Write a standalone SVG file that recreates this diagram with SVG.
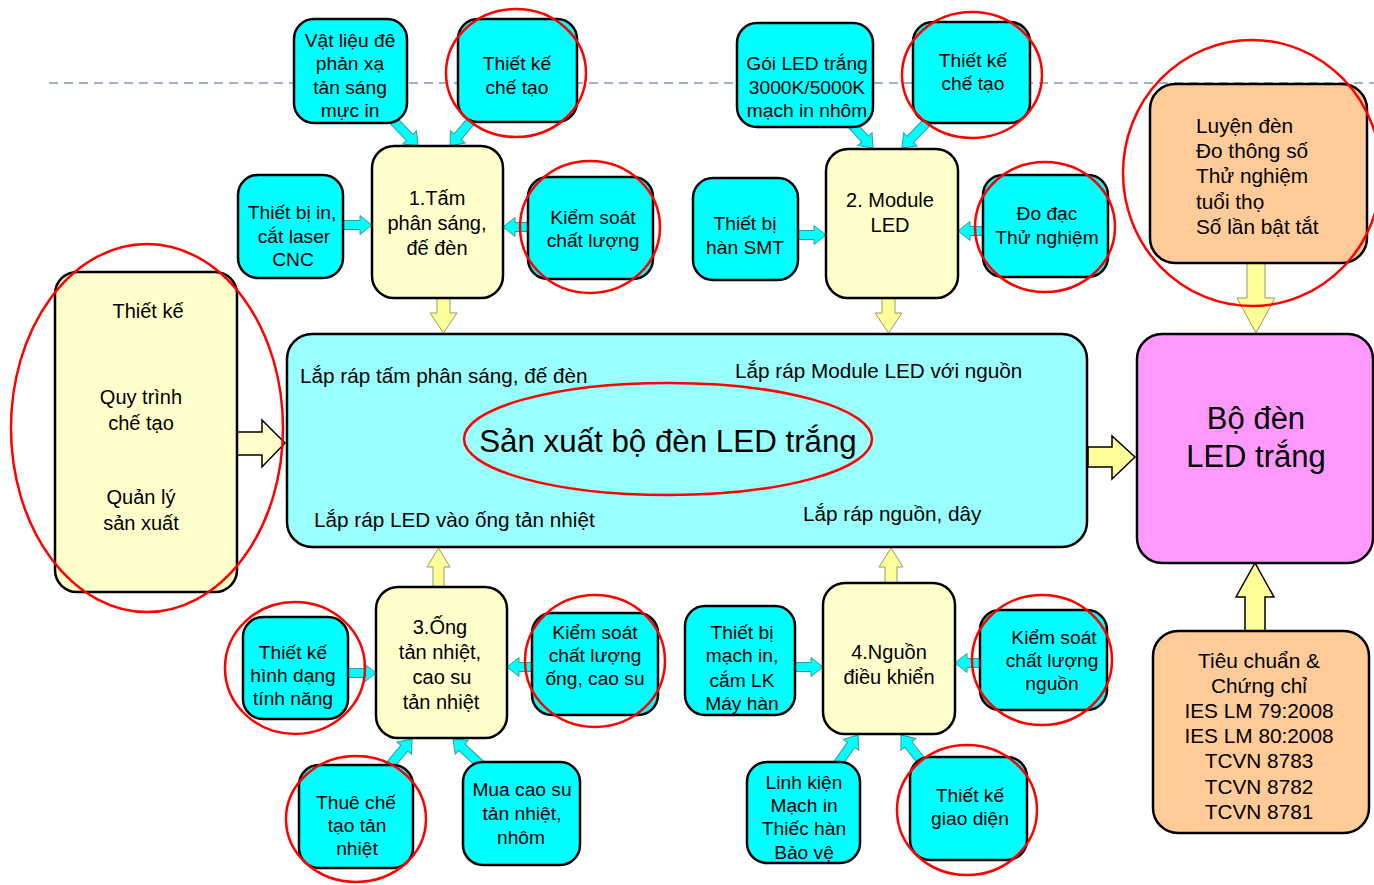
<svg xmlns="http://www.w3.org/2000/svg" xmlns:xlink="http://www.w3.org/1999/xlink" width="1374" height="885" viewBox="0 0 1374 885">
<style>
text{font-family:"Liberation Sans",Arial,sans-serif;font-size:20px;fill:#000;text-anchor:middle;dominant-baseline:central}
.cy{fill:#00ffff;stroke:#000;stroke-width:2.5}
.ly{fill:#ffffcc;stroke:#000;stroke-width:2.5}
.pe{fill:#ffcc99;stroke:#000;stroke-width:2.5}
.ca{fill:#00ffff;stroke:#339999;stroke-width:1}
.ya{fill:#ffff99;stroke:#999966;stroke-width:1}
.yb{fill:#ffff99;stroke:#000;stroke-width:1.5}
.rc{fill:none;stroke:#ff0000;stroke-width:2.5}
.lt{text-anchor:start}
.c text{font-size:19.2px}
.p text{font-size:20.8px}
.m text{font-size:20.7px}
</style>
<defs>
<path id="ca" d="M-38,-4.5 H-12 V-9.5 L0,0 L-12,9.5 V4.5 H-38 Z"/>
</defs>
<rect width="1374" height="885" fill="#ffffff"/>
<line x1="49" y1="83" x2="1374" y2="83" stroke="#9bb2c9" stroke-width="2" stroke-dasharray="9 6"/>

<g id="connectors">
<use xlink:href="#ca" class="ca" transform="translate(418,146) rotate(46)"/>
<use xlink:href="#ca" class="ca" transform="translate(450,146) rotate(130)"/>
<use xlink:href="#ca" class="ca" transform="translate(372,225)"/>
<use xlink:href="#ca" class="ca" transform="translate(503,227) rotate(180)"/>
<use xlink:href="#ca" class="ca" transform="translate(873,148) rotate(48)"/>
<use xlink:href="#ca" class="ca" transform="translate(902,148) rotate(134)"/>
<use xlink:href="#ca" class="ca" transform="translate(826,235)"/>
<use xlink:href="#ca" class="ca" transform="translate(958,231) rotate(180)"/>
<use xlink:href="#ca" class="ca" transform="translate(376,673)"/>
<use xlink:href="#ca" class="ca" transform="translate(507,667) rotate(180)"/>
<use xlink:href="#ca" class="ca" transform="translate(412,739) rotate(-50)"/>
<use xlink:href="#ca" class="ca" transform="translate(453,739) rotate(-137)"/>
<use xlink:href="#ca" class="ca" transform="translate(823,667)"/>
<use xlink:href="#ca" class="ca" transform="translate(955,663) rotate(180)"/>
<use xlink:href="#ca" class="ca" transform="translate(858,735) rotate(-55)"/>
<use xlink:href="#ca" class="ca" transform="translate(901,735) rotate(-128)"/>
<path class="ya" d="M437,297 H450 V313 H457 L443.5,333 L430,313 H437 Z"/>
<path class="ya" d="M882,297 H895 V313 H902 L888.5,333 L875,313 H882 Z"/>
<path class="ya" d="M433,589 H444 V567 H450 L438.5,548 L427,567 H433 Z"/>
<path class="ya" d="M885,585 H897 V567 H903 L891,548 L879,567 H885 Z"/>
<path class="ya" d="M1247,262 H1265 V298 H1275 L1256,333 L1237,298 H1247 Z"/>
<path class="yb" d="M1245,632 H1265 V597 H1274 L1255,563 L1236,597 H1245 Z"/>
<path class="yb" d="M1088,447 H1112 V436 L1135,457 L1112,479 V467 H1088 Z"/>
<path d="M237,432 H262 V420 L285,443 L262,467 V455 H237 Z" fill="#ffffcc" stroke="#000" stroke-width="1.5"/>
</g>

<g id="n_vatlieu" class="c"><rect class="cy" x="294" y="19" width="113" height="104" rx="20"/>
<text x="350" y="40">Vật liệu đê</text><text x="350" y="63">phản xạ</text><text x="350" y="87">tản sáng</text><text x="350" y="110">mực in</text></g>
<g id="n_tk1" class="c"><rect class="cy" x="458" y="19" width="119" height="103" rx="20"/>
<text x="517" y="63">Thiết kế</text><text x="517" y="87">chế tạo</text></g>
<g id="n_tam"><rect class="ly" x="372" y="146" width="131" height="152" rx="22"/>
<text x="437" y="198">1.Tấm</text><text x="437" y="223">phân sáng,</text><text x="437" y="248">đế đèn</text></g>
<g id="n_tbin" class="c"><rect class="cy" x="238" y="175" width="105" height="103" rx="20"/>
<text x="292" y="212">Thiết bị in,</text><text x="294" y="236">cắt laser</text><text x="293" y="259">CNC</text></g>
<g id="n_ks1" class="c"><rect class="cy" x="528" y="177" width="125" height="102" rx="20"/>
<text x="593" y="217">Kiểm soát</text><text x="593" y="240">chất lượng</text></g>

<g id="n_goi" class="c"><rect class="cy" x="737" y="23" width="136" height="104" rx="20"/>
<text x="807" y="63">Gói LED trắng</text><text x="807" y="87">3000K/5000K</text><text x="807" y="110">mạch in nhôm</text></g>
<g id="n_tk2" class="c"><rect class="cy" x="913" y="22" width="117" height="101" rx="20"/>
<text x="973" y="60">Thiết kế</text><text x="973" y="83">chế tạo</text></g>
<g id="n_module"><rect class="ly" x="826" y="149" width="132" height="149" rx="22"/>
<text x="890" y="200">2. Module</text><text x="890" y="225">LED</text></g>
<g id="n_smt" class="c"><rect class="cy" x="693" y="178" width="105" height="102" rx="20"/>
<text x="745" y="223">Thiết bị</text><text x="745" y="247">hàn SMT</text></g>
<g id="n_dodac" class="c"><rect class="cy" x="983" y="175" width="125" height="102" rx="20"/>
<text x="1047" y="213">Đo đạc</text><text x="1047" y="237">Thử nghiệm</text></g>

<g id="n_luyen" class="p"><rect class="pe" x="1150" y="84" width="217" height="179" rx="25"/>
<text class="lt" x="1196" y="125">Luyện đèn</text><text class="lt" x="1196" y="150">Đo thông số</text><text class="lt" x="1196" y="175">Thử nghiệm</text><text class="lt" x="1196" y="201">tuổi thọ</text><text class="lt" x="1196" y="226">Số lần bật tắt</text></g>

<g id="n_left"><rect class="ly" x="55" y="272" width="182" height="320" rx="22"/>
<text x="148" y="311">Thiết kế</text><text x="141" y="397">Quy trình</text><text x="141" y="423">chế tạo</text><text x="141" y="497">Quản lý</text><text x="141" y="523">sản xuất</text></g>

<g id="n_center" class="m"><rect x="287" y="334" width="800" height="213" rx="25" fill="#99ffff" stroke="#000" stroke-width="2.5"/>
<text class="lt" x="300" y="375">Lắp ráp tấm phân sáng, đế đèn</text>
<text class="lt" x="735" y="370">Lắp ráp Module LED với nguồn</text>
<text x="668" y="441" style="font-size:31.3px">Sản xuất bộ đèn LED trắng</text>
<text class="lt" x="314" y="519">Lắp ráp LED vào ống tản nhiệt</text>
<text class="lt" x="803" y="513">Lắp ráp nguồn, dây</text></g>

<g id="n_boden"><rect x="1137" y="334" width="236" height="229" rx="25" fill="#ff99ff" stroke="#000" stroke-width="2.5"/>
<text x="1256" y="418" style="font-size:31px">Bộ đèn</text><text x="1256" y="456" style="font-size:31px">LED trắng</text></g>

<g id="n_tieuchuan" class="p"><rect class="pe" x="1153" y="631" width="216" height="202" rx="25"/>
<text x="1259" y="660">Tiêu chuẩn &amp;</text><text x="1259" y="685">Chứng chỉ</text><text x="1259" y="710">IES LM 79:2008</text><text x="1259" y="735">IES LM 80:2008</text><text x="1259" y="760">TCVN 8783</text><text x="1259" y="786">TCVN 8782</text><text x="1259" y="811">TCVN 8781</text></g>

<g id="n_ong"><rect class="ly" x="376" y="587" width="131" height="151" rx="22"/>
<text x="440" y="627">3.Ống</text><text x="440" y="652">tản nhiệt,</text><text x="442" y="677">cao su</text><text x="441" y="702">tản nhiệt</text></g>
<g id="n_tkhd" class="c"><rect class="cy" x="243" y="617" width="105" height="102" rx="20"/>
<text x="293" y="652">Thiết kế</text><text x="293" y="675">hình dạng</text><text x="293" y="698">tính năng</text></g>
<g id="n_ks3" class="c"><rect class="cy" x="532" y="613" width="126" height="102" rx="20"/>
<text x="595" y="632">Kiểm soát</text><text x="595" y="655">chất lượng</text><text x="595" y="678">ống, cao su</text></g>
<g id="n_thue" class="c"><rect class="cy" x="299" y="765" width="114" height="103" rx="20"/>
<text x="356" y="802">Thuê chế</text><text x="357" y="825">tạo tản</text><text x="357" y="848">nhiệt</text></g>
<g id="n_mua" class="c"><rect class="cy" x="463" y="762" width="117" height="103" rx="20"/>
<text x="522" y="789">Mua cao su</text><text x="522" y="813">tản nhiệt,</text><text x="521" y="837">nhôm</text></g>

<g id="n_nguon"><rect class="ly" x="823" y="583" width="132" height="151" rx="22"/>
<text x="889" y="652">4.Nguồn</text><text x="889" y="677">điều khiển</text></g>
<g id="n_tbmach" class="c"><rect class="cy" x="685" y="606" width="110" height="109" rx="20"/>
<text x="742" y="632">Thiết bị</text><text x="742" y="655">mạch in,</text><text x="742" y="680">cắm LK</text><text x="742" y="703">Máy hàn</text></g>
<g id="n_ks4" class="c"><rect class="cy" x="980" y="610" width="127" height="100" rx="20"/>
<text x="1054" y="637">Kiểm soát</text><text x="1052" y="660">chất lượng</text><text x="1052" y="683">nguồn</text></g>
<g id="n_linh" class="c"><rect class="cy" x="747" y="762" width="113" height="101" rx="20"/>
<text x="804" y="782">Linh kiện</text><text x="804" y="805">Mạch in</text><text x="804" y="828">Thiếc hàn</text><text x="804" y="852">Bảo vệ</text></g>
<g id="n_tkgd" class="c"><rect class="cy" x="910" y="757" width="117" height="103" rx="20"/>
<text x="970" y="795">Thiết kế</text><text x="970" y="818">giao diện</text></g>

<g id="highlights">
<ellipse class="rc" cx="516" cy="73" rx="70" ry="64"/>
<ellipse class="rc" cx="590" cy="227" rx="70" ry="66"/>
<ellipse class="rc" cx="972" cy="75" rx="70" ry="63"/>
<ellipse class="rc" cx="1045" cy="227" rx="70" ry="65"/>
<ellipse class="rc" cx="1252" cy="173" rx="129" ry="133"/>
<ellipse class="rc" cx="147" cy="428" rx="136" ry="184"/>
<ellipse class="rc" cx="668" cy="439" rx="204" ry="56"/>
<ellipse class="rc" cx="295" cy="668" rx="70" ry="66"/>
<ellipse class="rc" cx="595" cy="661" rx="70" ry="66"/>
<ellipse class="rc" cx="356" cy="819" rx="70" ry="63"/>
<ellipse class="rc" cx="1042" cy="660" rx="70" ry="65"/>
<ellipse class="rc" cx="967" cy="810" rx="70" ry="65"/>
</g>
</svg>
